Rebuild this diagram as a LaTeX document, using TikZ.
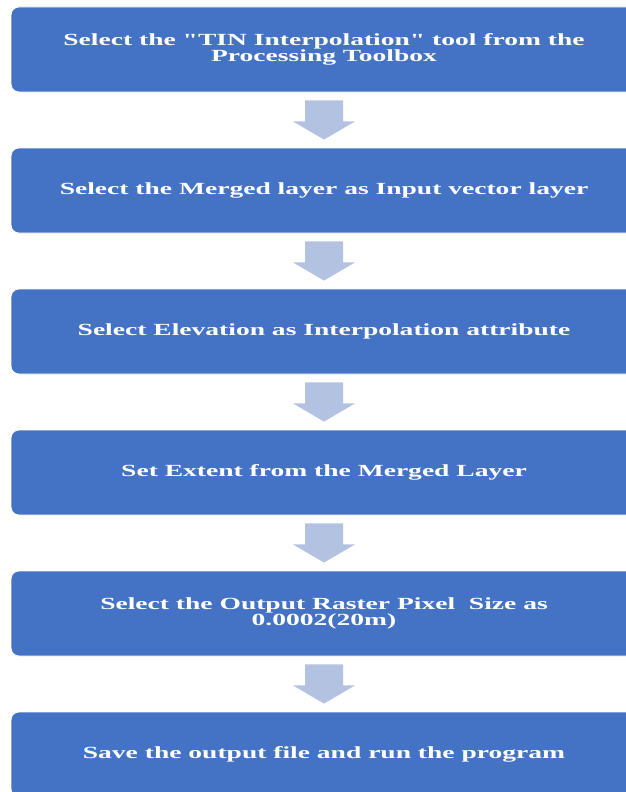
\documentclass[tikz,border=0pt]{standalone}
\usepackage{fontspec}
\usepackage{tikz}
\usetikzlibrary{calc}
\newfontfamily\boxfont[FakeStretch=1.62]{Liberation Serif}
\definecolor{boxblue}{HTML}{4472C4}
\definecolor{arrowblue}{HTML}{B4C2E1}
\tikzset{
  stepbox/.style={fill=boxblue, draw=white, line width=0.8pt, rounded corners=8pt,
    minimum width=626pt, minimum height=85pt, inner sep=0pt, align=center,
    text=white, font=\boxfont\bfseries\fontsize{17}{16}\selectfont},
  downarrow/.style={fill=arrowblue, draw=none},
}

\begin{document}
\begin{tikzpicture}[x=1pt,y=1pt]
  \useasboundingbox (0,0) rectangle (625,-792);

  \node[stepbox] (s1) at (324,-49.5) {Select the "TIN Interpolation" tool from the\\Processing Toolbox};
  \node[stepbox] (s2) at (324,-190.5) {Select the Merged layer as Input vector layer};
  \node[stepbox] (s3) at (324,-331.5) {Select Elevation as Interpolation attribute};
  \node[stepbox] (s4) at (324,-472.5) {Set Extent from the Merged Layer};
  \node[stepbox] (s5) at (324,-613.5) {Select the Output Raster Pixel~ Size as\\0.0002(20m)};
  \node[stepbox] (s6) at (324,-754.5) {Save the output file and run the program};

  % block arrows between the steps
  \foreach \a/\b in {s1/s2,s2/s3,s3/s4,s4/s5,s5/s6}
    \fill[downarrow] ($(\a.south)+(-19,-8)$) -- ++(38,0) -- ++(0,-21) -- ++(12,0)
      -- ($(\b.north)+(0,8)$) -- ($(\a.south)+(-31,-29)$) -- ++(12,0) -- cycle;
\end{tikzpicture}
\end{document}
